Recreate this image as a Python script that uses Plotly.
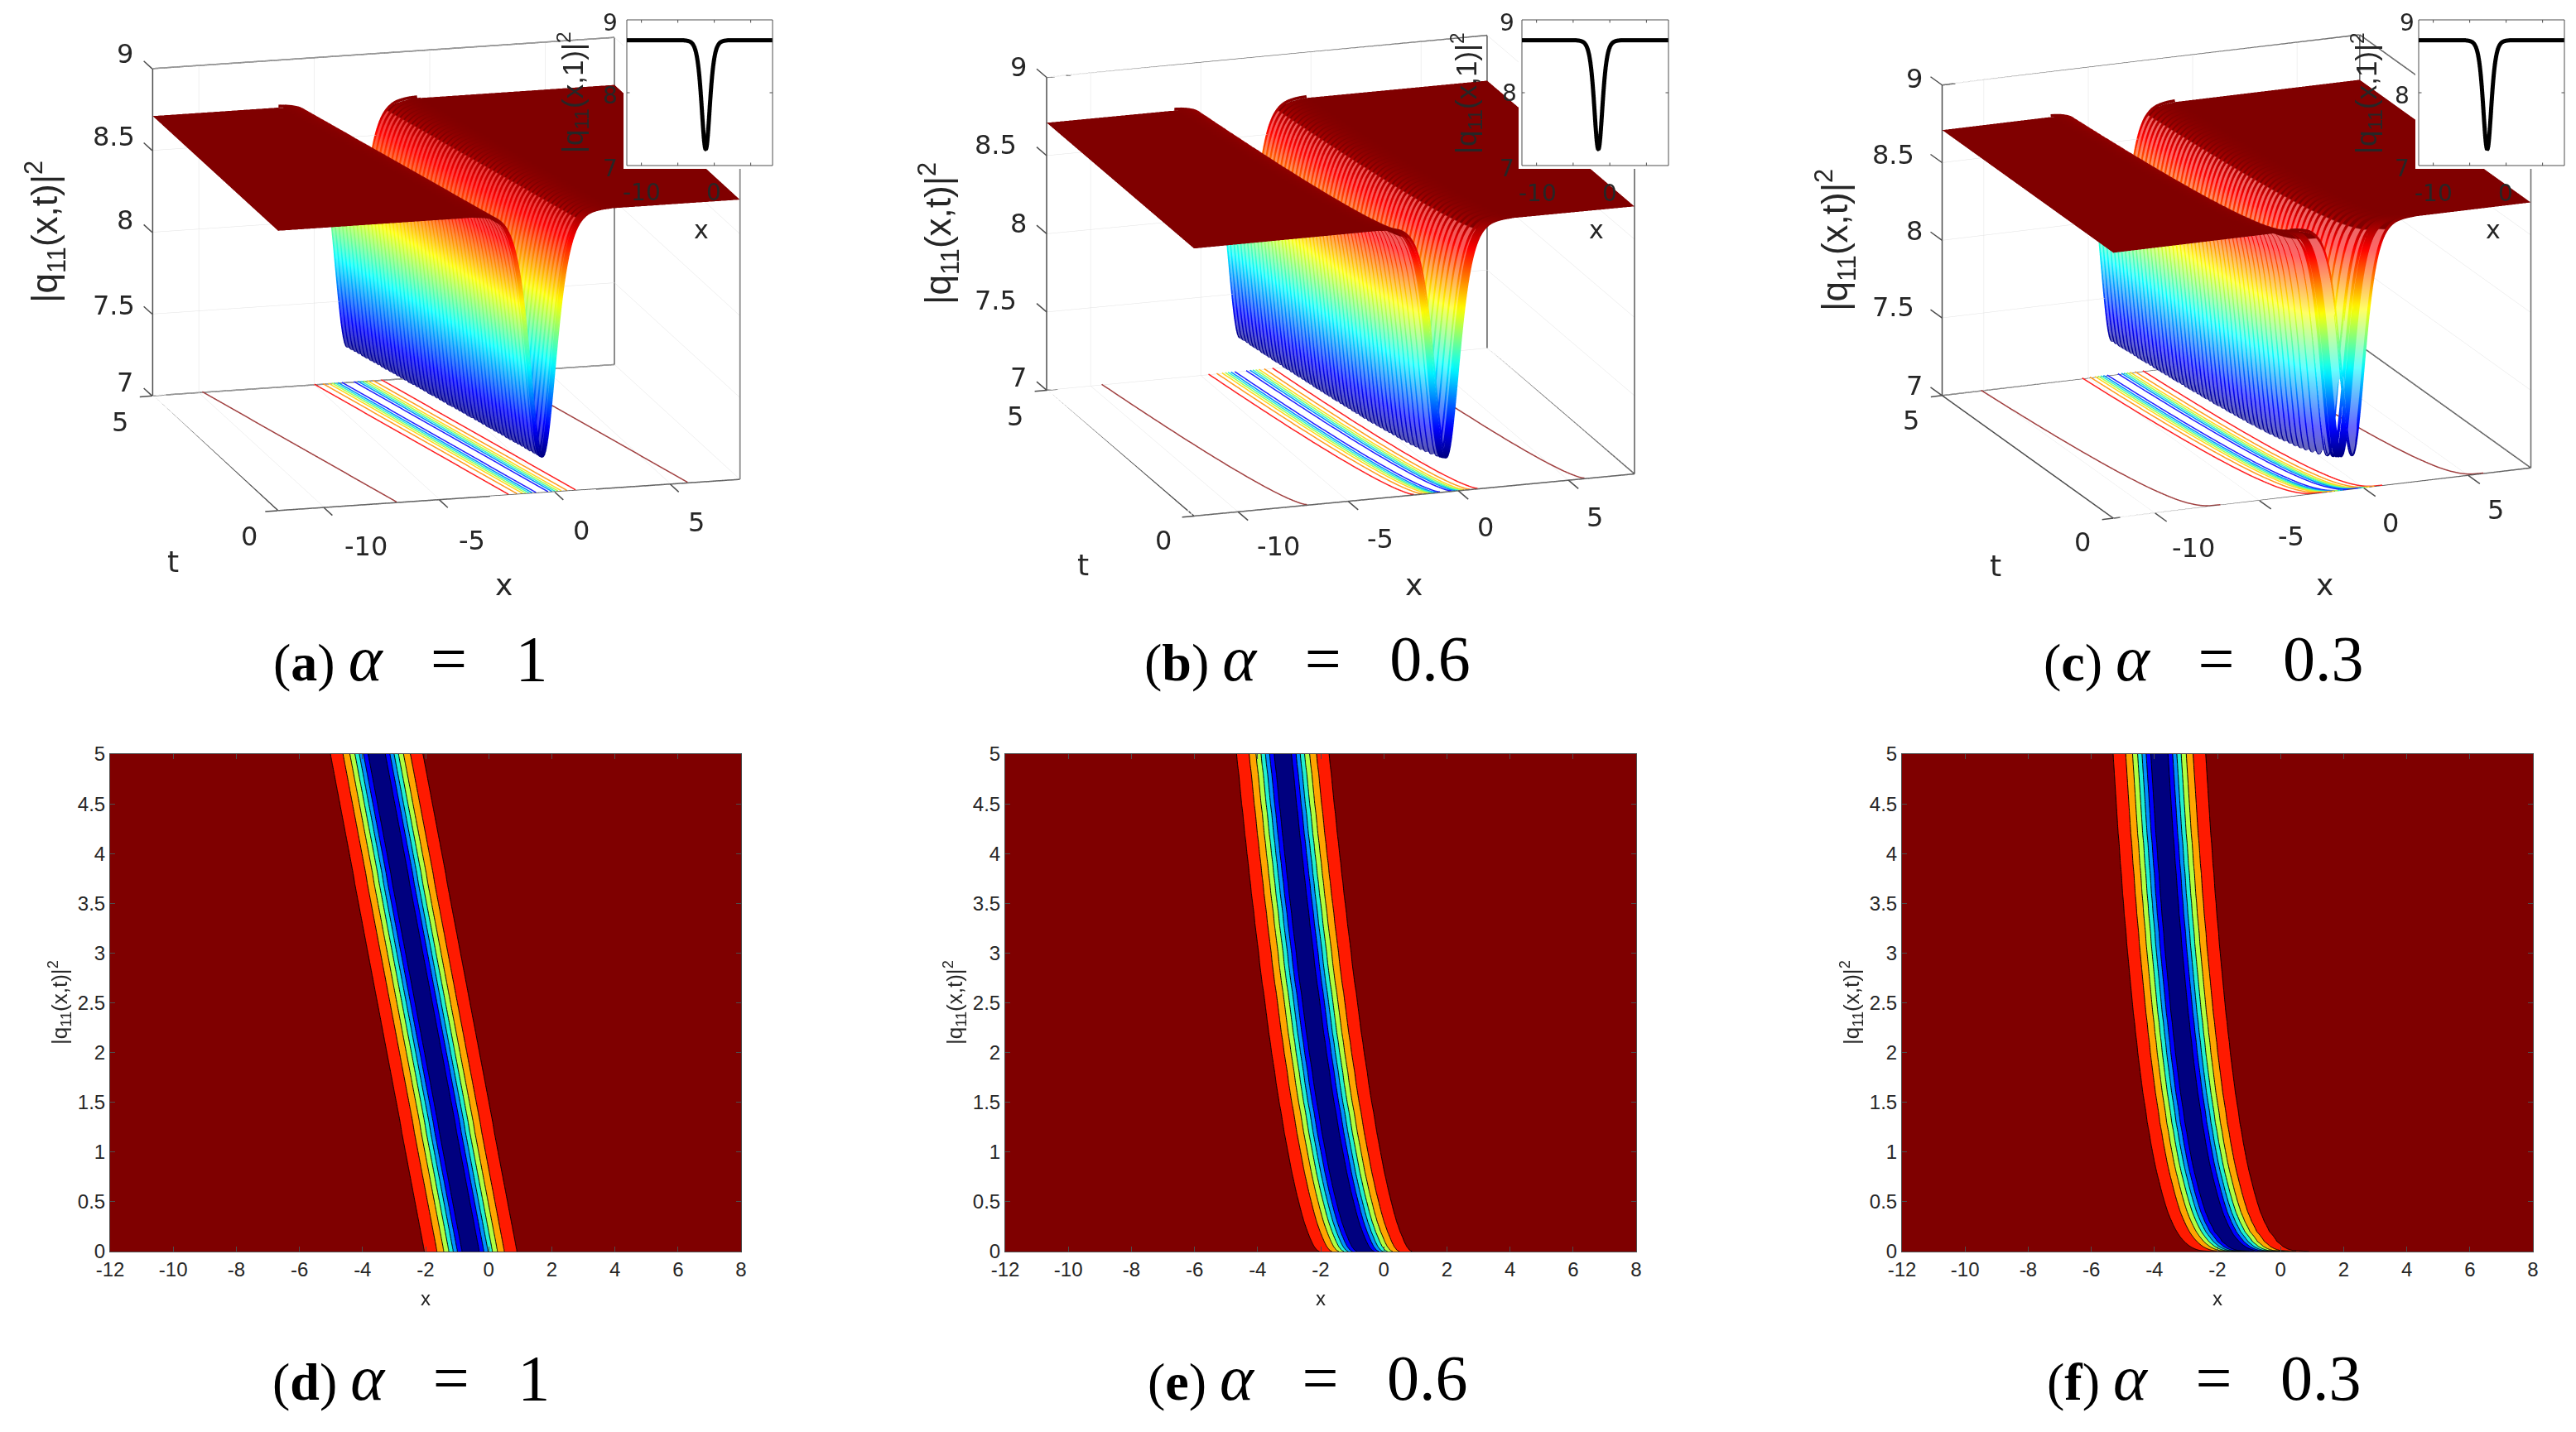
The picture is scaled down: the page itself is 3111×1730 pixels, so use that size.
import math
import numpy as np
import plotly.graph_objects as go

W, H = 3111, 1730

# --- values ---
x_range = [-12, 8]
t_range = [0, 5]
z_range = [7, 9]
x_step = 0.05
t_rows = [0, 0.01, 0.02, 0.03, 0.05] + [round(0.1 * i, 1) for i in range(1, 51)]
flat_level = 8.72
# dip depth profile against distance from the dip centre, at steps of x_step
dip_profile = [7.22, 7.227, 7.246, 7.277, 7.32, 7.372, 7.433, 7.5, 7.571, 7.646, 7.722, 7.798, 7.872, 7.944,
               8.014, 8.081, 8.142, 8.2, 8.253, 8.302, 8.347, 8.387, 8.424, 8.457, 8.487, 8.514, 8.538, 8.559,
               8.578, 8.595, 8.61, 8.623, 8.635, 8.645, 8.654, 8.662, 8.669, 8.675, 8.681, 8.686, 8.69, 8.694,
               8.697, 8.7, 8.702, 8.704, 8.706, 8.708, 8.709, 8.711, 8.712, 8.713, 8.714, 8.715, 8.716, 8.716,
               8.717, 8.717, 8.718, 8.718, 8.719]
# dip centre at each of t_rows, alpha = 1
centers_a = [-0.57, -0.58, -0.58, -0.59, -0.6, -0.63, -0.69, -0.75, -0.81, -0.87, -0.93, -0.99, -1.05, -1.11, -1.17,
             -1.23, -1.29, -1.34, -1.4, -1.46, -1.52, -1.58, -1.64, -1.7, -1.76, -1.82, -1.88, -1.94, -2.0, -2.06,
             -2.12, -2.18, -2.24, -2.3, -2.36, -2.42, -2.48, -2.54, -2.6, -2.66, -2.72, -2.78, -2.83, -2.89, -2.95,
             -3.01, -3.07, -3.13, -3.19, -3.25, -3.31, -3.37, -3.43, -3.49, -3.55]
# alpha = 0.6
centers_b = [-0.57, -0.63, -0.67, -0.69, -0.74, -0.82, -0.95, -1.06, -1.15, -1.23, -1.31, -1.38, -1.45, -1.51, -1.57,
             -1.63, -1.69, -1.74, -1.79, -1.85, -1.9, -1.95, -1.99, -2.04, -2.09, -2.13, -2.18, -2.22, -2.26, -2.3,
             -2.34, -2.39, -2.43, -2.47, -2.5, -2.54, -2.58, -2.62, -2.65, -2.69, -2.73, -2.76, -2.8, -2.83, -2.87,
             -2.9, -2.94, -2.97, -3.0, -3.04, -3.07, -3.1, -3.13, -3.17, -3.2]
# alpha = 0.3
centers_c = [-0.57, -1.08, -1.19, -1.27, -1.39, -1.58, -1.82, -1.98, -2.11, -2.21, -2.3, -2.38, -2.46, -2.53, -2.59,
             -2.65, -2.7, -2.76, -2.8, -2.85, -2.9, -2.94, -2.98, -3.02, -3.06, -3.09, -3.13, -3.16, -3.2, -3.23,
             -3.26, -3.29, -3.32, -3.35, -3.38, -3.41, -3.43, -3.46, -3.49, -3.51, -3.54, -3.56, -3.58, -3.61, -3.63,
             -3.65, -3.68, -3.7, -3.72, -3.74, -3.76, -3.78, -3.8, -3.82, -3.84]
# floor contour levels: half-width from the dip centre, and colour
floor_halfwidths = [6.3, 1.45, 1.08, 0.84, 0.69, 0.56, 0.43, 0.26]
floor_colors = ['#a04040', '#ff2020', '#ff9a20', '#ffd820', '#a8ff50', '#30f0d0', '#0090ff', '#2020ff']
contour_levels = [7.4, 8.6, 0.2]
band_colors = ['#00007f', '#0000ff', '#0090ff', '#20f0d0', '#b0ff40', '#ffa500', '#ff1a00', '#7f0000']
inset_t = 1.0
caption_labels = ['a', 'b', 'c', 'd', 'e', 'f']
caption_alpha = ['1', '0.6', '0.3', '1', '0.6', '0.3']
x_ticks3d = [-10, -5, 0, 5]
t_ticks3d = [0, 5]
z_ticks3d = [7, 7.5, 8, 8.5, 9]
inset_z_ticks = [7, 8, 9]
x_ticks2d = list(range(-12, 9, 2))
y_ticks2d = [0, 0.5, 1, 1.5, 2, 2.5, 3, 3.5, 4, 4.5, 5]
y_ticktext2d = ['0', '0.5', '1', '1.5', '2', '2.5', '3', '3.5', '4', '4.5', '5']
z_title = '|q<sub>11</sub>(x,t)|<sup>2</sup>'
inset_title = '|q<sub>11</sub>(x,1)|<sup>2</sup>'

JET_STOPS = [(0, (0, 0, 128)), (0.125, (0, 0, 255)), (0.375, (0, 255, 255)), (0.625, (255, 255, 0)),
             (0.875, (255, 0, 0)), (1, (128, 0, 0))]
JET = [[f, 'rgb(%d,%d,%d)' % c] for f, c in JET_STOPS]
INK = '#262626'
FRAME = '#4d4d4d'
SANS3D = 'DejaVu Sans'


def pale_jet(mix):
    """Face colours: jet lightened towards white (the white gaps of the mesh), dark red on the flat."""
    out = []
    for f, c in JET_STOPS[:-1]:
        out.append([f, 'rgb(%d,%d,%d)' % tuple(round(v + (255 - v) * mix) for v in c)])
    edge = 0.96
    out.append([edge, 'rgb(%d,%d,%d)' % tuple(round(v + (255 - v) * mix) for v in (224, 0, 0))])
    out.append([edge, '#800000'])
    out.append([1, '#800000'])
    return out


# --- geometry of each 3D panel on the page ---
panels = [
    dict(az=15.2, el=14.4, cx=538.5, cy=331.25, s=578, zr=0.706, inset=(757, 933), centers=centers_a, mix=0.25,
         z_lab=[(151, 462), (137, 369), (151, 266), (137, 165), (151, 65)], t_lab=[(301, 648), (145, 510)],
         x_lab=[(442, 660), (570, 653), (702, 641), (841, 631)], t_title=(209, 678), x_title=(608, 706),
         z_title=(54, 280), in_z=[(737, 203), (737, 115), (737, 28)], in_x=[(775, 233), (862, 233)],
         in_xt=(847, 277), in_t=(692, 112)),
    dict(az=18.5, el=16.6, cx=1619, cy=333, s=561, zr=0.703, inset=(1838, 2015), centers=centers_b, mix=0.35,
         z_lab=[(1230, 456), (1202, 363), (1230, 270), (1202, 175), (1230, 81)], t_lab=[(1405, 653), (1226, 503)],
         x_lab=[(1544, 660), (1667, 651), (1794, 637), (1926, 625)], t_title=(1308, 682), x_title=(1707, 706),
         z_title=(1134, 282), in_z=[(1820, 203), (1823, 113), (1820, 28)], in_x=[(1857, 234), (1944, 234)],
         in_xt=(1928, 278), in_t=(1771, 113)),
    dict(az=22.3, el=17.1, cx=2701, cy=334, s=545, zr=0.72, inset=(2921, 3097), centers=centers_c, mix=0.4,
         z_lab=[(2312, 466), (2286, 371), (2312, 279), (2286, 187), (2312, 95)], t_lab=[(2515, 655), (2308, 508)],
         x_lab=[(2649, 662), (2767, 648), (2887, 632), (3014, 616)], t_title=(2410, 683), x_title=(2807, 706),
         z_title=(2217, 290), in_z=[(2901, 203), (2901, 115), (2907, 28)], in_x=[(2939, 234), (3026, 234)],
         in_xt=(3011, 278), in_t=(2858, 113)),
]
contour_boxes = [(133, 895), (1214, 1976), (2297, 3059)]
contour_y = (911, 1512)
SCENE_HW, SCENE_HH = 400, 320
EYE_NORM = 2.5
INSET_TOP, INSET_BOT = 24, 200
STUB = 0.027   # length of 3D tick stubs, as a fraction of the axis

# --- build ---
x_grid = [round(x_range[0] + i * x_step, 2) for i in range(int(round((x_range[1] - x_range[0]) / x_step)) + 1)]
offsets = [i * x_step for i in range(len(dip_profile))]
# the face surface uses the evenly spaced rows and every second column, which keeps the page light
face_rows = [j for j, t in enumerate(t_rows) if t == 0 or round(t * 10) == t * 10]
face_cols = list(range(0, len(x_grid), 2))


def row_values(c):
    return np.interp(np.abs(np.array(x_grid) - c), offsets, dip_profile, right=flat_level).tolist()


def frame_traces(scene):
    x0, x1 = x_range
    t0, t1 = t_range
    z0, z1 = z_range
    edges = [((x0, t1, z0), (x0, t1, z1)), ((x0, t1, z1), (x1, t1, z1)), ((x1, t1, z1), (x1, t1, z0)),
             ((x0, t1, z0), (x1, t1, z0)), ((x0, t1, z0), (x0, t0, z0)), ((x0, t0, z0), (x1, t0, z0)),
             ((x1, t0, z0), (x1, t1, z0)), ((x1, t0, z0), (x1, t0, z1)), ((x1, t1, z1), (x1, t0, z1))]
    xs, ys, zs = [], [], []
    for a, b in edges:
        xs += [a[0], b[0], None]
        ys += [a[1], b[1], None]
        zs += [a[2], b[2], None]
    return go.Scatter3d(x=xs, y=ys, z=zs, mode='lines', line=dict(color=FRAME, width=3), scene=scene,
                        hoverinfo='skip', showlegend=False)


def unit(v, rng):
    return (v - rng[0]) / (rng[1] - rng[0]) - 0.5


def stub_shapes(p):
    """Tick stubs outside the box, projected with the panel's own camera (the clip box hides 3D marks out there)."""
    az, el = math.radians(p['az']), math.radians(p['el'])

    def page(u, v, w):
        sx = p['s'] * (u * math.cos(az) - v * math.sin(az))
        sy = p['s'] * (u * math.sin(el) * math.sin(az) + v * math.sin(el) * math.cos(az)
                       + w * p['zr'] * math.cos(el))
        return (p['cx'] + sx) / W, 1 - (p['cy'] - sy) / H

    segs = []
    for xv in x_ticks3d:
        u = unit(xv, x_range)
        segs.append((page(u, -0.5, -0.5), page(u, -0.5 - 2.5 * STUB, -0.5)))
    for tv in t_ticks3d:
        v = unit(tv, t_range)
        segs.append((page(-0.5, v, -0.5), page(-0.5 - STUB, v, -0.5)))
    for zv in z_ticks3d:
        w = unit(zv, z_range)
        segs.append((page(-0.5, 0.5, w), page(-0.5, 0.5 + 2.5 * STUB, w)))
    return [dict(type='line', xref='paper', yref='paper', x0=a[0], y0=a[1], x1=b[0], y1=b[1],
                 line=dict(color=FRAME, width=1.5)) for a, b in segs]


fig = go.Figure()
annots = []
shapes = []


def put(px, py, text, size, angle=0, family='Liberation Sans', color=INK):
    annots.append(dict(xref='paper', yref='paper', x=px / W, y=1 - py / H, text=text, showarrow=False,
                       xanchor='center', yanchor='middle', textangle=angle,
                       font=dict(family=family, size=size, color=color)))


layout = dict(template='none', width=W, height=H, autosize=False, margin=dict(l=0, r=0, t=0, b=0),
              paper_bgcolor='white', plot_bgcolor='white', showlegend=False)

for i, p in enumerate(panels):
    scene = 'scene%d' % (i + 1)
    inset_scene = 'scene%d' % (i + 4)
    rows = [row_values(c) for c in p['centers']]
    z = np.array(rows)
    zf = z[np.ix_(face_rows, face_cols)]
    # faces sit a hair below the mesh lines
    fig.add_trace(go.Surface(x=[x_grid[j] for j in face_cols], y=[t_rows[j] for j in face_rows], z=zf - 0.01,
                             surfacecolor=zf, cmin=7.22, cmax=8.72,
                             colorscale=pale_jet(p['mix']),
                             showscale=False, scene=scene, hoverinfo='skip',
                             lighting=dict(ambient=1, diffuse=0, specular=0, roughness=1, fresnel=0)))
    lx, ly, lz = [], [], []
    for t, c, r in zip(t_rows, p['centers'], rows):
        for xv, zv in zip(x_grid, r):
            if abs(xv - c) <= 3.0:
                lx.append(xv); ly.append(t); lz.append(zv)
        lx.append(None); ly.append(None); lz.append(None)
    colors = [v if v is not None else flat_level for v in lz]
    fig.add_trace(go.Scatter3d(x=lx, y=ly, z=lz, mode='lines', scene=scene, hoverinfo='skip', showlegend=False,
                               connectgaps=False,
                               line=dict(color=colors, colorscale=JET, cmin=7.22, cmax=8.72, width=7)))
    for hw, col in zip(floor_halfwidths, floor_colors):
        fx, fy, fz = [], [], []
        for sign in (-1, 1):
            for t, c in zip(t_rows, p['centers']):
                xv = c + sign * hw
                if x_range[0] <= xv <= x_range[1]:
                    fx.append(xv); fy.append(t); fz.append(z_range[0] + 0.004)
            fx.append(None); fy.append(None); fz.append(None)
        fig.add_trace(go.Scatter3d(x=fx, y=fy, z=fz, mode='lines', scene=scene, hoverinfo='skip', showlegend=False,
                                   line=dict(color=col, width=3)))
    fig.add_trace(frame_traces(scene))
    shapes += stub_shapes(p)

    az, el = math.radians(p['az']), math.radians(p['el'])
    scene_h = 2 * SCENE_HH
    eye = dict(x=-EYE_NORM * math.cos(el) * math.sin(az), y=-EYE_NORM * math.cos(el) * math.cos(az),
               z=EYE_NORM * math.sin(el))
    ax3 = dict(showbackground=False, showgrid=True, gridcolor='#e2e2e2', gridwidth=1, zeroline=False,
               showline=False, showticklabels=False, ticks='', showspikes=False, title=dict(text=''),
               tickmode='array')
    A = p['s'] / (scene_h / 2)   # orthographic scale: page pixels per axis = aspect * scene height / 2
    layout[scene] = dict(
        domain=dict(x=[(p['cx'] - SCENE_HW) / W, (p['cx'] + SCENE_HW) / W],
                    y=[1 - (p['cy'] + SCENE_HH) / H, 1 - (p['cy'] - SCENE_HH) / H]),
        camera=dict(eye=eye, up=dict(x=0, y=0, z=1), center=dict(x=0, y=0, z=0),
                    projection=dict(type='orthographic')),
        aspectmode='manual', aspectratio=dict(x=A, y=A, z=A * p['zr']), bgcolor='rgba(0,0,0,0)',
        xaxis=dict(ax3, range=x_range, tickvals=x_ticks3d),
        yaxis=dict(ax3, range=t_range, tickvals=t_ticks3d),
        zaxis=dict(ax3, range=z_range, tickvals=z_ticks3d),
    )

    # inset: profile at t = 1, drawn as its own scene so that it sits on top of the surface
    k = t_rows.index(inset_t)
    fig.add_trace(go.Scatter3d(x=x_grid, y=[0] * len(x_grid), z=rows[k], mode='lines', scene=inset_scene,
                               hoverinfo='skip', showlegend=False, line=dict(color='black', width=10)))
    # inset tick marks, inside the box
    tx, ty, tz = [], [], []
    for xv in x_ticks3d:
        for a, b in ((z_range[0], z_range[0] + 0.04), (z_range[1], z_range[1] - 0.04)):
            tx += [xv, xv, None]; ty += [0, 0, None]; tz += [a, b, None]
    for zv in inset_z_ticks:
        for a, b in ((x_range[0], x_range[0] + 0.4), (x_range[1], x_range[1] - 0.4)):
            tx += [a, b, None]; ty += [0, 0, None]; tz += [zv, zv, None]
    fig.add_trace(go.Scatter3d(x=tx, y=ty, z=tz, mode='lines', scene=inset_scene, hoverinfo='skip',
                               showlegend=False, line=dict(color=FRAME, width=2)))
    left, right = p['inset']
    pad = 4
    in_h = INSET_BOT - INSET_TOP + 2 * pad
    Ax = (right - left) / (in_h / 2)
    Az = (INSET_BOT - INSET_TOP) / (in_h / 2)
    axi = dict(showbackground=False, showgrid=False, zeroline=False, showticklabels=False, showspikes=False,
               title=dict(text=''), showline=True, linecolor=FRAME, linewidth=2, mirror=True, tickmode='array',
               ticks='')
    layout[inset_scene] = dict(
        domain=dict(x=[(left - pad) / W, (right + pad) / W],
                    y=[1 - (INSET_BOT + pad) / H, 1 - (INSET_TOP - pad) / H]),
        camera=dict(eye=dict(x=0, y=-EYE_NORM, z=0), up=dict(x=0, y=0, z=1), center=dict(x=0, y=0, z=0),
                    projection=dict(type='orthographic')),
        aspectmode='manual', aspectratio=dict(x=Ax, y=0.02, z=Az), bgcolor='white',
        xaxis=dict(axi, range=x_range, tickvals=x_ticks3d),
        yaxis=dict(showbackground=False, showgrid=False, zeroline=False, showticklabels=False, showspikes=False,
                   title=dict(text=''), showline=False, range=[-1, 1], tickvals=[]),
        zaxis=dict(axi, range=z_range, tickvals=inset_z_ticks),
    )

    # labels
    for v, pos in zip(z_ticks3d, p['z_lab']):
        put(pos[0], pos[1], str(v), 32, family=SANS3D)
    for v, pos in zip(t_ticks3d, p['t_lab']):
        put(pos[0], pos[1], str(v), 32, family=SANS3D)
    for v, pos in zip(x_ticks3d, p['x_lab']):
        put(pos[0], pos[1], str(v), 32, family=SANS3D)
    put(*p['t_title'], 't', 36, family=SANS3D)
    put(*p['x_title'], 'x', 36, family=SANS3D)
    put(*p['z_title'], z_title, 44, angle=-90)
    for v, pos in zip(inset_z_ticks, p['in_z']):
        put(pos[0], pos[1], str(v), 28, family=SANS3D)
    for v, pos in zip([-10, 0], p['in_x']):
        put(pos[0], pos[1], str(v), 28, family=SANS3D)
    put(*p['in_xt'], 'x', 30, family=SANS3D)
    put(*p['in_t'], inset_title, 35, angle=-90)

# contour panels
vmin, vmax = 7.2, 8.8
n = len(band_colors)
stops = []
for j, col in enumerate(band_colors):
    stops += [[j / n, col], [(j + 1) / n, col]]
for i, (p, box) in enumerate(zip(panels, contour_boxes)):
    xa, ya = 'xaxis%d' % (i + 1), 'yaxis%d' % (i + 1)
    rows = [row_values(c) for c in p['centers']]
    fig.add_trace(go.Contour(x=x_grid, y=t_rows, z=rows, xaxis='x%d' % (i + 1), yaxis='y%d' % (i + 1),
                             zmin=vmin, zmax=vmax, zauto=False, colorscale=stops, showscale=False, hoverinfo='skip',
                             contours=dict(start=contour_levels[0], end=contour_levels[1], size=contour_levels[2],
                                           coloring='fill', showlines=True),
                             line=dict(color='black', width=1, smoothing=0)))
    common = dict(showgrid=False, zeroline=False, showline=True, linecolor=FRAME, linewidth=1, mirror='ticks',
                  automargin=False, ticks='inside', ticklen=6, tickcolor=FRAME,
                  tickfont=dict(family='Liberation Sans', size=24, color=INK))
    layout[xa] = dict(common, domain=[box[0] / W, box[1] / W], range=x_range, anchor='y%d' % (i + 1),
                      tickmode='array', tickvals=x_ticks2d, ticktext=[str(v) for v in x_ticks2d])
    layout[ya] = dict(common, domain=[1 - contour_y[1] / H, 1 - contour_y[0] / H], range=t_range,
                      anchor='x%d' % (i + 1), tickmode='array', tickvals=y_ticks2d, ticktext=y_ticktext2d)
    put((box[0] + box[1]) / 2, 1568, 'x', 24)
    put(box[0] - 61, 1211, z_title, 26, angle=-90)

caption_pos = [(496, 795), (1579, 795), (2661, 795), (496, 1664), (1579, 1664), (2661, 1664)]
for lab, val, (px, py) in zip(caption_labels, caption_alpha, caption_pos):
    text = ('(<b>%s</b>) <span style="font-size:78px"><i>α</i> &nbsp;&nbsp;=&nbsp;&nbsp; %s</span>' % (lab, val))
    put(px, py, text, 64, family='Liberation Serif', color='black')

layout['annotations'] = annots
layout['shapes'] = shapes
fig.update_layout(**layout)
fig.write_html('out.html', config=dict(displayModeBar=False), post_script="document.body.style.margin='0';")
